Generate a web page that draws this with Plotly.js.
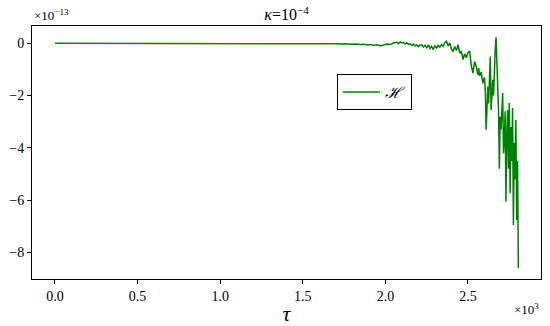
<!DOCTYPE html>
<html>
<head>
<meta charset="utf-8">
<script src="https://cdn.plot.ly/plotly-3.0.1.min.js"></script>
<style>
  body { margin: 0; }
  #plot { width: 550px; height: 326px; }
</style>
</head>
<body>
<div id="plot"></div>
<script>
// tau in units of 10^3, H in units of 10^-13
var tau = [
  0, 0.1, 0.2, 0.3, 0.4, 0.5, 0.6, 0.7, 0.8, 0.9, 1.0, 1.1, 1.2, 1.3, 1.4, 1.5,
  1.52, 1.55, 1.58, 1.61, 1.64, 1.67, 1.70, 1.73, 1.76, 1.79, 1.82, 1.85, 1.87, 1.89,
  1.91, 1.93, 1.95, 1.97, 1.99, 2.01, 2.03, 2.05, 2.07, 2.08, 2.09, 2.10, 2.11, 2.12,
  2.13, 2.14, 2.15, 2.16, 2.17, 2.18, 2.19, 2.20, 2.21, 2.22, 2.23, 2.24, 2.25, 2.26,
  2.27, 2.28, 2.29, 2.30, 2.31, 2.32, 2.33, 2.34, 2.35, 2.36, 2.37, 2.38, 2.39, 2.40,
  2.41, 2.42, 2.43, 2.44, 2.45, 2.46, 2.47, 2.48, 2.49, 2.50, 2.51, 2.52, 2.53, 2.54,
  2.55, 2.56, 2.565, 2.57, 2.58, 2.59, 2.60, 2.605, 2.61, 2.615, 2.62, 2.625, 2.63,
  2.635, 2.64, 2.645, 2.65, 2.655, 2.66, 2.665, 2.67, 2.675, 2.68, 2.685, 2.69, 2.695,
  2.70, 2.705, 2.71, 2.715, 2.72, 2.725, 2.73, 2.735, 2.74, 2.745, 2.75, 2.755, 2.76,
  2.765, 2.77, 2.775, 2.78, 2.785, 2.79, 2.795, 2.80, 2.805
];
var hamiltonian = [
  0, 0, 0, 0, 0, 0, 0, 0, 0, 0, 0, 0, 0, 0, 0, 0,
  0, -0.01, 0, -0.01, -0.02, -0.01, -0.02, -0.03, -0.02, -0.04, -0.03, -0.05, -0.04, -0.07,
  -0.05, -0.08, -0.06, -0.10, -0.06, -0.03, -0.05, 0.02, 0.04, -0.02, 0.05, 0.01, 0.03, -0.03,
  0.02, -0.04, -0.02, -0.08, -0.04, -0.10, -0.06, -0.12, -0.07, -0.05, -0.14, -0.08, -0.17, -0.06,
  -0.20, -0.12, -0.24, -0.10, -0.18, -0.08, -0.15, -0.05, -0.12, 0.02, 0.08, -0.10, 0.00, -0.22,
  -0.32, -0.12, -0.28, -0.05, -0.38, -0.30, -0.62, -0.40, -0.55, -0.35, -0.30, -0.85, -1.14, -0.70,
  -0.90, -1.20, -0.95, -1.25, -1.10, -1.53, -1.30, -1.85, -3.30, -2.10, -1.66, -2.30, -1.20,
  -0.51, -2.55, -1.60, -1.40, -2.00, -0.90, -0.20, 0.23, -0.80, -1.90, -2.60, -4.80, -2.80,
  -3.30, -2.40, -1.90, -4.20, -3.70, -2.60, -6.06, -3.50, -2.55, -4.80, -2.28, -5.73, -3.20,
  -4.50, -2.47, -6.95, -3.80, -5.20, -2.93, -6.75, -4.50, -8.60
];
var xTicks = [0, 0.5, 1.0, 1.5, 2.0, 2.5];
var xTickText = ["0.0", "0.5", "1.0", "1.5", "2.0", "2.5"];
var yTicks = [-8, -6, -4, -2, 0];
var yTickText = ["\u22128", "\u22126", "\u22124", "\u22122", "0"];

var fontName = "Liberation Serif";

var trace = {
  x: tau,
  y: hamiltonian,
  type: "scatter",
  mode: "lines",
  name: "<i>\u210B</i>",
  line: { color: "#008000", width: 1.5 }
};

var layout = {
  width: 550,
  height: 326,
  margin: { l: 32, r: 9, t: 26, b: 47 },
  paper_bgcolor: "white",
  plot_bgcolor: "white",
  font: { family: fontName, size: 14, color: "black" },
  title: {
    text: "<i>\u03BA</i>=10<sup>\u22124</sup>",
    font: { family: fontName, size: 16, color: "black" },
    x: 0.521, xanchor: "center",
    y: 0.955, yanchor: "middle"
  },
  xaxis: {
    range: [-0.139, 2.942],
    tickvals: xTicks,
    ticktext: xTickText,
    ticks: "outside", ticklen: 4, tickcolor: "black",
    tickfont: { family: fontName, size: 14, color: "black" },
    showline: true, linecolor: "black", linewidth: 1, mirror: true,
    showgrid: false, zeroline: false,
    title: { text: "<i>\u03C4</i>", font: { family: fontName, size: 22, color: "black" }, standoff: 2 }
  },
  yaxis: {
    range: [-9.01, 0.66],
    tickvals: yTicks,
    ticktext: yTickText,
    ticks: "outside", ticklen: 4, tickcolor: "black",
    tickfont: { family: fontName, size: 14, color: "black" },
    showline: true, linecolor: "black", linewidth: 1, mirror: true,
    showgrid: false, zeroline: false
  },
  showlegend: true,
  legend: {
    x: 0.599, y: 0.81, xanchor: "left", yanchor: "top",
    bordercolor: "black", borderwidth: 1, bgcolor: "white",
    font: { family: fontName, size: 16, color: "black" },
    itemwidth: 37
  },
  annotations: [
    {
      text: "\u00D710<sup>\u221213</sup>",
      xref: "paper", yref: "paper", x: 0, y: 1,
      xanchor: "left", yanchor: "bottom", yshift: 1,
      showarrow: false, font: { family: fontName, size: 13, color: "black" }
    },
    {
      text: "\u00D710<sup>3</sup>",
      xref: "paper", yref: "paper", x: 1, y: 0,
      xanchor: "right", yanchor: "top", yshift: -20,
      showarrow: false, font: { family: fontName, size: 13, color: "black" }
    }
  ]
};

Plotly.newPlot("plot", [trace], layout, { displayModeBar: false });
</script>
</body>
</html>
